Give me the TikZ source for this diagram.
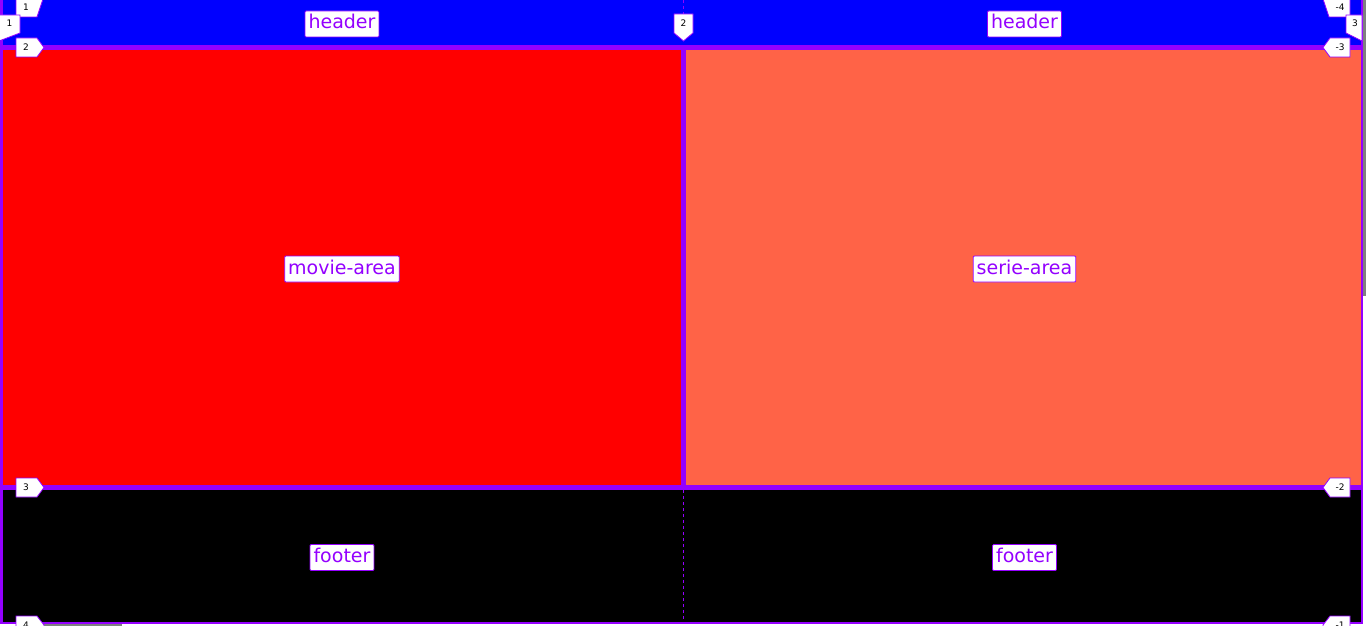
\documentclass[tikz,border=0pt]{standalone}
\usepackage{fontspec}
\setmainfont{DejaVu Sans}
\usepackage{xcolor}
\definecolor{gridPurple}{HTML}{9400FF}
\definecolor{tomatoRed}{HTML}{FF6347}
\definecolor{barGray}{HTML}{7F7F7F}

\begin{document}
\begin{tikzpicture}[
    x=1pt, y=-1pt,
    areaLabel/.style={rectangle, rounded corners=1pt, draw=gridPurple, fill=white, text=gridPurple, line width=0.8pt, font=\fontsize{19}{22}\selectfont, text height=14.5pt, text depth=4.5pt, inner xsep=3.5pt, inner ysep=3.5pt},
    flagBox/.style={draw=gridPurple, fill=white, line width=0.8pt},
    flagNum/.style={font=\fontsize{9}{9}\selectfont, text=black, inner sep=0pt},
    gridDash/.style={draw=gridPurple, line width=0.8pt, dash pattern=on 3pt off 3pt}
]
    \useasboundingbox (0,0) rectangle (1366,626);
    \clip (0,0) rectangle (1366,626);

    % grid frame and areas
    \fill[white] (0,0) rectangle (1366,626);
    \fill[gridPurple] (0,0) rectangle (1363,624);
    \fill[blue] (3,0) rectangle (1361,45);
    \fill[red] (3,50) rectangle (681,485);
    \fill[tomatoRed] (686,50) rectangle (1361,485);
    \fill[black] (3,490) rectangle (1361,622);
    \fill[barGray] (1363,0) rectangle (1366,296);
    \fill[barGray] (33,624) rectangle (122,626);

    % column line 2 through the spanning rows
    \coordinate (colTop) at (683.5,0);
    \coordinate (colFtrTop) at (683.5,490);
    \coordinate (colFtrBot) at (683.5,622);
    \draw[gridDash] (colTop) -- (683.5,14);
    \draw[gridDash] (colFtrTop) -- (colFtrBot);

    % area names
    \node[areaLabel] (hdrLeft) at (342,24) {header};
    \node[areaLabel] (hdrRight) at (1024.5,24) {header};
    \node[areaLabel] (movie) at (342,269) {movie-area};
    \node[areaLabel] (serie) at (1024.5,269) {serie-area};
    \node[areaLabel] (ftrLeft) at (342,557.5) {footer};
    \node[areaLabel] (ftrRight) at (1024.5,557.5) {footer};

    % line numbers, left and top
    \draw[flagBox] (16,-1) -- (43,-1) -- (37,17) -- (16,17) -- cycle;
    \node[flagNum] (colOne) at (26,7) {1};
    \draw[flagBox] (-1,15) -- (20,15) -- (20,33) -- (-1,41) -- cycle;
    \node[flagNum] (rowOneL) at (9.5,23) {1};
    \draw[flagBox] (16,38) -- (37,38) -- (44,47.5) -- (37,57) -- (16,57) -- cycle;
    \node[flagNum] (rowTwoL) at (26,47.5) {2};
    \draw[flagBox] (674,14) -- (693,14) -- (693,33) -- (683.5,41) -- (674,33) -- cycle;
    \node[flagNum] (colTwo) at (683.5,23) {2};
    \draw[flagBox] (16,478) -- (37,478) -- (44,487.5) -- (37,497) -- (16,497) -- cycle;
    \node[flagNum] (rowThreeL) at (26,487.5) {3};
    \draw[flagBox] (16,630) -- (16,616) -- (37,616) -- (44,625) -- (44,630);
    \node[flagNum] (rowFourL) at (26,625) {4};

    % line numbers, right side
    \draw[flagBox] (1350,-1) -- (1323,-1) -- (1329,17) -- (1350,17) -- cycle;
    \node[flagNum] (colMinusFour) at (1340,7) {-4};
    \draw[flagBox] (1362,15) -- (1346,15) -- (1346,33) -- (1362,41) -- cycle;
    \node[flagNum] (colThree) at (1355,23) {3};
    \draw[flagBox] (1350,38) -- (1330,38) -- (1323,47.5) -- (1330,57) -- (1350,57) -- cycle;
    \node[flagNum] (rowMinusThree) at (1340,47.5) {-3};
    \draw[flagBox] (1350,478) -- (1330,478) -- (1323,487.5) -- (1330,497) -- (1350,497) -- cycle;
    \node[flagNum] (rowMinusTwo) at (1340,487.5) {-2};
    \draw[flagBox] (1350,630) -- (1350,616) -- (1330,616) -- (1323,625) -- (1323,630);
    \node[flagNum] (rowMinusOne) at (1340,625) {-1};
\end{tikzpicture}
\end{document}
